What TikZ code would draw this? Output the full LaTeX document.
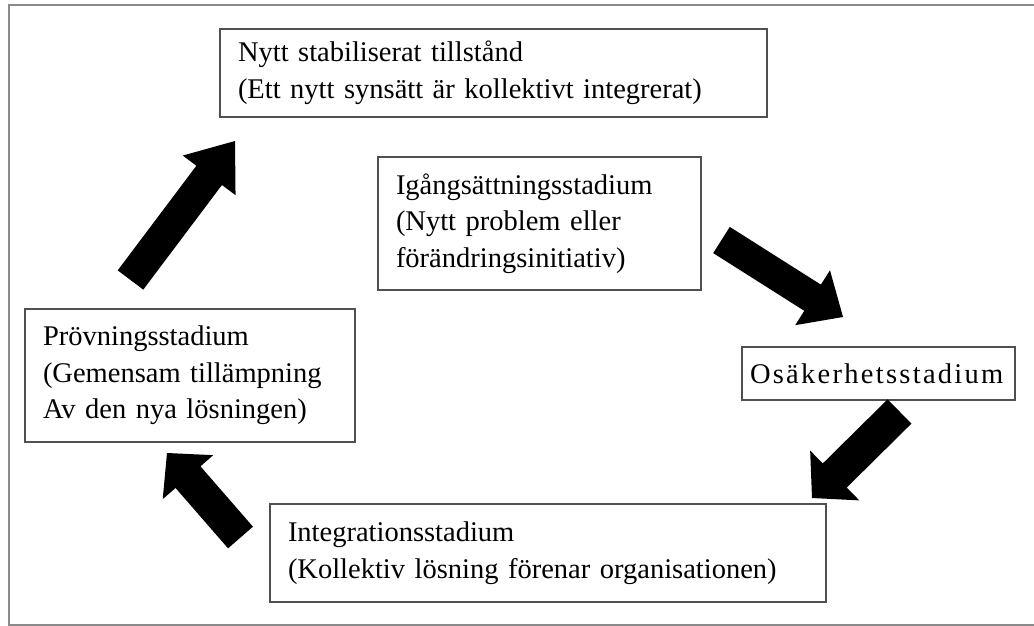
\documentclass[tikz,border=0pt]{standalone}
\usepackage{fontspec}
\setmainfont{Liberation Serif}
\usetikzlibrary{calc}
\definecolor{framegray}{HTML}{8A8A8A}
\definecolor{boxgray}{HTML}{505050}
% tail, tip, head length, shaft half width, head half width
\newcommand\blockarr[5]{%
  \coordinate (ba-n) at ($(#2)!#3!(#1)$);
  \fill[arrowfill] ($(#1)!#4!90:(#2)$) -- ($(ba-n)!#4!-90:(#1)$) -- ($(ba-n)!#5!-90:(#1)$)
    -- (#2) -- ($(ba-n)!#5!90:(#1)$) -- ($(ba-n)!#4!90:(#1)$) -- ($(#1)!#4!-90:(#2)$) -- cycle;
}
\begin{document}
\begin{tikzpicture}[x=1pt,y=-1pt,
  stage/.style={draw=boxgray, line width=1.5pt, inner xsep=18pt, inner ysep=0pt,
    align=left, font=\fontsize{28.5}{36.5}\selectfont},
  arrowfill/.style={fill=black},
  frameline/.style={draw=framegray, line width=2pt}]
\useasboundingbox (0,0) rectangle (1034,626);
\fill[white] (0,0) rectangle (1034,626);
\draw[frameline] (1040,5) -- (9,5) -- (9,625) -- (1040,625);

\node[stage, text width=511pt, minimum height=88pt] (nytt) at (493.5,73)
  {Nytt stabiliserat tillstånd\\(Ett nytt synsätt är kollektivt integrerat)};
\node[stage, text width=287pt, minimum height=133pt] (igang) at (539.5,223.5)
  {Igångsättningsstadium\\(Nytt problem eller\\förändringsinitiativ)};
\node[stage, inner xsep=8pt, text width=257pt, minimum height=53pt] (osak) at (878.5,373.5)
  {\addfontfeature{LetterSpace=8}Osäkerhetsstadium};
\node[stage, text width=520pt, minimum height=98pt] (integ) at (548,553)
  {Integrationsstadium\\(Kollektiv lösning förenar organisationen)};
\node[stage, text width=294pt, minimum height=133pt] (prov) at (190,375.5)
  {Prövningsstadium\\(Gemensam tillämpning\\Av den nya lösningen)};

\coordinate (a1t) at (130.5,280); \coordinate (a1h) at (235,141);
\coordinate (a2t) at (721.5,240); \coordinate (a2h) at (843,317);
\coordinate (a3t) at (899.5,411.5); \coordinate (a3h) at (812,498);
\coordinate (a4t) at (240.5,537.5); \coordinate (a4h) at (167,453);

\blockarr{a1t}{a1h}{43pt}{16pt}{33pt}
\blockarr{a2t}{a2h}{36pt}{15.5pt}{32.5pt}
\blockarr{a3t}{a3h}{32pt}{17pt}{35pt}
\blockarr{a4t}{a4h}{32pt}{16.5pt}{33.5pt}
\end{tikzpicture}
\end{document}
